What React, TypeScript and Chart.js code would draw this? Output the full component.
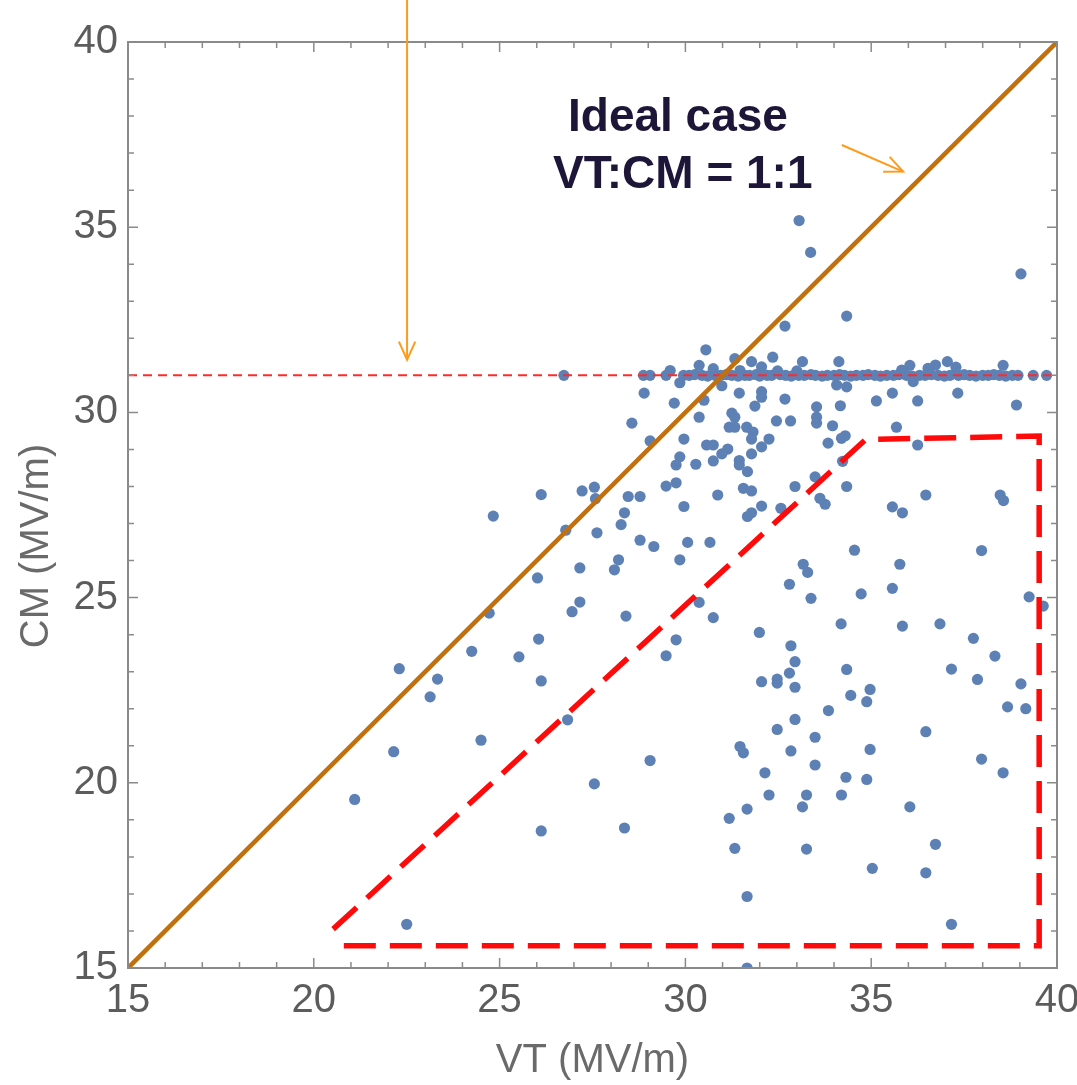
import React, { useEffect, useRef } from "react";
import { Chart, registerables } from "chart.js";

Chart.register(...registerables);

// ---- data -------------------------------------------------------------
const axisMin = 15;
const axisMax = 40;
const tickStep = 5;

// measured breakdown strength pairs [VT, CM] in MV/m
const measurements: [number, number][] = [
  [21.1, 19.55], [22.3, 23.08], [22.15, 20.84], [22.5, 16.18], [23.13, 22.32],
  [23.33, 22.8], [24.25, 23.55], [24.5, 21.15], [24.72, 24.58], [24.83, 27.2],
  [25.52, 23.4], [26.02, 25.53], [26.05, 23.88], [26.12, 22.75], [26.12, 27.78],
  [26.12, 18.7], [26.73, 31.0], [26.78, 26.82], [26.83, 21.7], [26.95, 24.62],
  [27.16, 25.8], [27.16, 24.88], [27.22, 27.88], [27.55, 27.98], [27.58, 27.67],
  [27.62, 26.75], [27.55, 19.97], [28.09, 25.75], [28.2, 26.02], [28.27, 26.97],
  [28.36, 27.29], [28.46, 27.73], [28.4, 24.5], [28.36, 18.78], [28.56, 29.71],
  [28.78, 27.73], [28.78, 26.55], [28.87, 31.0], [28.89, 30.52], [29.05, 31.0],
  [29.05, 29.23], [29.05, 20.6], [29.15, 26.38], [29.48, 31.0], [29.59, 31.13],
  [29.48, 28.01], [29.48, 23.43], [29.7, 30.25], [29.75, 28.1], [29.75, 28.58],
  [29.75, 23.86], [29.85, 30.8], [29.85, 28.8], [29.85, 26.02], [29.96, 29.28],
  [29.96, 27.46], [30.06, 26.49], [30.28, 28.6], [30.37, 31.27], [30.37, 29.87],
  [30.37, 24.87], [30.5, 30.33], [30.55, 31.69], [30.57, 29.12], [30.66, 26.49],
  [30.75, 31.18], [30.75, 29.12], [30.75, 28.69], [30.75, 24.46], [30.87, 27.77],
  [30.98, 30.72], [30.98, 28.88], [31.14, 29.01], [31.18, 19.04], [31.25, 29.98],
  [31.33, 29.87], [31.18, 29.6], [31.33, 29.6], [31.33, 31.45], [31.33, 18.23],
  [31.45, 30.52], [31.45, 28.7], [31.45, 28.58], [31.47, 31.13], [31.47, 20.98],
  [31.56, 20.81], [31.56, 27.95], [31.66, 19.29], [31.66, 16.93], [31.66, 15.0],
  [31.67, 28.4], [31.65, 29.6], [31.67, 27.19], [31.78, 31.37], [31.78, 29.28],
  [31.78, 28.88], [31.78, 27.88], [31.78, 27.29], [31.82, 29.47], [31.87, 30.17],
  [31.99, 24.06], [32.05, 31.23], [32.05, 30.56], [32.05, 30.41], [32.05, 29.07],
  [32.05, 27.47], [32.05, 22.73], [32.14, 20.27], [32.25, 29.28], [32.25, 19.67],
  [32.35, 31.49], [32.45, 29.77], [32.47, 22.8], [32.47, 22.69], [32.47, 21.44],
  [32.48, 31.12], [32.57, 27.41], [32.68, 32.33], [32.68, 30.36], [32.8, 25.36],
  [32.8, 22.96], [32.83, 29.77], [32.84, 23.7], [32.84, 20.86], [32.95, 28.0],
  [32.95, 23.27], [32.95, 22.58], [32.95, 21.71], [33.0, 31.12], [33.06, 35.18],
  [33.15, 31.37], [33.15, 19.35], [33.17, 25.9], [33.26, 19.67], [33.26, 18.21],
  [33.29, 25.68], [33.37, 34.32], [33.38, 24.98], [33.49, 28.26], [33.49, 21.23],
  [33.49, 20.48], [33.53, 30.15], [33.53, 29.87], [33.53, 29.71], [33.62, 27.68],
  [33.76, 27.52], [33.84, 29.17], [33.85, 21.95], [33.96, 29.64], [34.07, 30.74],
  [34.13, 31.37], [34.17, 30.18], [34.19, 24.29], [34.2, 19.67], [34.23, 28.68],
  [34.2, 29.3], [34.3, 29.37], [34.34, 32.6], [34.34, 30.69], [34.34, 28.0],
  [34.34, 23.06], [34.32, 20.15], [34.45, 22.36], [34.55, 26.28], [34.73, 25.1],
  [34.88, 22.19], [34.97, 22.52], [34.88, 20.09], [34.97, 20.9], [35.03, 17.69],
  [35.14, 30.31], [35.57, 30.52], [35.57, 27.45], [35.57, 25.25], [35.68, 29.6],
  [35.77, 25.9], [35.82, 31.14], [35.84, 27.29], [35.84, 24.23], [36.04, 31.27],
  [36.04, 19.35], [36.13, 30.83], [36.25, 30.31], [36.25, 29.12], [36.47, 27.77],
  [36.47, 21.38], [36.47, 17.57], [36.53, 31.19], [36.73, 31.28], [36.73, 18.34],
  [36.85, 24.29], [37.05, 31.37], [37.16, 23.07], [37.16, 16.18], [37.28, 31.22],
  [37.33, 30.52], [37.75, 23.9], [37.86, 22.79], [37.97, 26.27], [37.97, 20.64],
  [38.33, 23.42], [38.47, 27.77], [38.56, 27.62], [38.55, 31.27], [38.55, 20.27],
  [38.67, 22.05], [38.91, 30.2], [39.03, 33.74], [39.03, 22.67], [39.16, 22.0],
  [39.25, 25.02], [39.63, 24.77],
  // points sitting on the CM = 31 ceiling
  [29.95, 31.0], [30.1, 31.0], [30.25, 31.02], [30.45, 31.0], [30.6, 30.98],
  [30.8, 31.0], [30.95, 31.0], [31.1, 31.02], [31.25, 31.0], [31.42, 30.98],
  [31.6, 31.0], [31.72, 31.0], [31.9, 31.02], [32.0, 30.98], [32.2, 31.0],
  [32.32, 31.0], [32.55, 31.02], [32.7, 31.0], [32.85, 30.98], [33.05, 31.0],
  [33.2, 31.0], [33.38, 31.02], [33.5, 31.0], [33.68, 30.98], [33.82, 31.0],
  [34.0, 31.0], [34.15, 31.02], [34.28, 31.0], [34.45, 30.98], [34.6, 31.0],
  [34.78, 31.0], [34.92, 31.02], [35.1, 31.0], [35.25, 30.98], [35.42, 31.0],
  [35.6, 31.0], [35.75, 31.02], [35.95, 31.0], [36.1, 30.98], [36.3, 31.0],
  [36.45, 31.0], [36.62, 31.02], [36.8, 31.0], [36.97, 30.98], [37.12, 31.0],
  [37.35, 31.0], [37.5, 31.02], [37.65, 31.0], [37.82, 30.98], [38.0, 31.0],
  [38.15, 31.0], [38.3, 31.02], [38.45, 31.0], [38.62, 30.98], [38.8, 31.0],
  [38.95, 31.0], [39.36, 31.0], [39.72, 31.0],
];

// reference lines
const idealLine: [number, number][] = [[15, 15], [40, 40]];
const capLevel = 31;
const capLine: [number, number][] = [[15, capLevel], [40, capLevel]];
const regionOutline: [number, number][] = [
  [20.52, 16.05], [34.85, 29.27], [39.52, 29.36], [39.52, 15.6], [20.45, 15.6],
];

// annotations (data coordinates)
const capArrow = { x: 22.51, yEnd: 31.42 };
const idealArrow = { from: [34.21, 37.22], to: [35.86, 36.5] };
const idealLabel = ["Ideal case", "VT:CM = 1:1"];

const FONT = "'Liberation Sans', Arial, sans-serif";

function drawArrowHead(ctx: CanvasRenderingContext2D, x0: number, y0: number, x1: number, y1: number, len: number, spread: number) {
  const ang = Math.atan2(y1 - y0, x1 - x0);
  ctx.beginPath();
  ctx.moveTo(x1 - len * Math.cos(ang - spread), y1 - len * Math.sin(ang - spread));
  ctx.lineTo(x1, y1);
  ctx.lineTo(x1 - len * Math.cos(ang + spread), y1 - len * Math.sin(ang + spread));
  ctx.stroke();
}

const framePlugin = {
  id: "frameTicks",
  afterDatasetsDraw(chart: any) {
    const { ctx, chartArea: a, scales } = chart;
    const xs = scales.x;
    const ys = scales.y;
    ctx.save();
    ctx.strokeStyle = "#8a8a8a";
    ctx.lineWidth = 2;
    ctx.strokeRect(a.left, a.top, a.right - a.left, a.bottom - a.top);
    ctx.lineWidth = 1.5;
    for (let v = axisMin; v <= axisMax; v += 1) {
      const major = v % tickStep === 0;
      const len = major ? 10 : 6;
      const px = xs.getPixelForValue(v);
      const py = ys.getPixelForValue(v);
      ctx.beginPath();
      ctx.moveTo(px, a.bottom); ctx.lineTo(px, a.bottom - len);
      ctx.moveTo(px, a.top); ctx.lineTo(px, a.top + len);
      ctx.moveTo(a.left, py); ctx.lineTo(a.left + len, py);
      ctx.moveTo(a.right, py); ctx.lineTo(a.right - len, py);
      ctx.stroke();
    }
    // y title
    ctx.fillStyle = "#6a6a6a";
    ctx.font = `40px ${FONT}`;
    ctx.textAlign = "center";
    ctx.textBaseline = "middle";
    ctx.translate(37, 546);
    ctx.rotate(-Math.PI / 2);
    ctx.fillText("CM (MV/m)", 0, 0);
    ctx.restore();

    // annotations
    ctx.save();
    ctx.strokeStyle = "#FF9A1A";
    ctx.lineWidth = 2;
    const ax = xs.getPixelForValue(capArrow.x);
    const ay = ys.getPixelForValue(capArrow.yEnd);
    ctx.beginPath();
    ctx.moveTo(ax, 0);
    ctx.lineTo(ax, ay);
    ctx.stroke();
    drawArrowHead(ctx, ax, 0, ax, ay, 20, 0.42);

    const bx0 = xs.getPixelForValue(idealArrow.from[0]);
    const by0 = ys.getPixelForValue(idealArrow.from[1]);
    const bx1 = xs.getPixelForValue(idealArrow.to[0]);
    const by1 = ys.getPixelForValue(idealArrow.to[1]);
    ctx.beginPath();
    ctx.moveTo(bx0, by0);
    ctx.lineTo(bx1, by1);
    ctx.stroke();
    drawArrowHead(ctx, bx0, by0, bx1, by1, 20, 0.42);

    ctx.fillStyle = "#1E1638";
    ctx.font = `bold 46px ${FONT}`;
    ctx.textAlign = "center";
    ctx.textBaseline = "middle";
    ctx.fillText(idealLabel[0], xs.getPixelForValue(29.8), ys.getPixelForValue(37.95));
    ctx.fillText(idealLabel[1], xs.getPixelForValue(29.93), ys.getPixelForValue(36.41));
    ctx.restore();
  },
};

const toXY = (arr: [number, number][]) => arr.map(([x, y]) => ({ x, y }));

export default function App() {
  const ref = useRef<HTMLCanvasElement | null>(null);

  useEffect(() => {
    if (!ref.current) return;
    const chart = new Chart(ref.current, {
      type: "scatter",
      data: {
        datasets: [
          {
            type: "line",
            data: toXY(idealLine),
            borderColor: "#C2700E",
            borderWidth: 4.5,
            pointRadius: 0,
            order: 1,
          } as any,
          {
            type: "line",
            data: toXY(regionOutline),
            borderColor: "#FF0A0A",
            borderWidth: 5.5,
            borderDash: [32, 14],
            pointRadius: 0,
            order: 2,
          } as any,
          {
            type: "line",
            data: toXY(capLine),
            borderColor: "#FF2A2A",
            borderWidth: 2,
            borderDash: [9, 6],
            pointRadius: 0,
            order: 3,
          } as any,
          {
            data: toXY(measurements),
            backgroundColor: "#5E81B5",
            borderWidth: 0,
            pointRadius: 5.6,
            order: 10,
          },
        ],
      },
      options: {
        responsive: false,
        animation: false,
        layout: { padding: { top: 42, right: 20, bottom: 0, left: 0 } },
        plugins: { legend: { display: false }, tooltip: { enabled: false } },
        scales: {
          x: {
            type: "linear",
            min: axisMin,
            max: axisMax,
            grid: { display: false, drawTicks: false },
            border: { display: false },
            ticks: {
              stepSize: tickStep,
              color: "#5c5c5c",
              font: { family: FONT, size: 40 },
              padding: 9,
              maxRotation: 0,
            },
            title: {
              display: true,
              text: "VT (MV/m)",
              color: "#6a6a6a",
              font: { family: FONT, size: 40 },
              padding: { top: 4, bottom: 0 },
            },
            afterFit: (s: any) => {
              s.height = 117;
              s.paddingLeft = 0;
              s.paddingRight = 0;
            },
          },
          y: {
            type: "linear",
            min: axisMin,
            max: axisMax,
            grid: { display: false, drawTicks: false },
            border: { display: false },
            ticks: {
              stepSize: tickStep,
              color: "#5c5c5c",
              font: { family: FONT, size: 40 },
              padding: 10,
            },
            afterFit: (s: any) => {
              s.width = 128;
              s.paddingTop = 0;
              s.paddingBottom = 0;
            },
          },
        },
      },
      plugins: [framePlugin],
    });
    return () => chart.destroy();
  }, []);

  return (
    <div style={{ position: "absolute", left: 0, top: 0, width: 1077, height: 1085, background: "#fff" }}>
      <canvas ref={ref} width={1077} height={1085} />
    </div>
  );
}
